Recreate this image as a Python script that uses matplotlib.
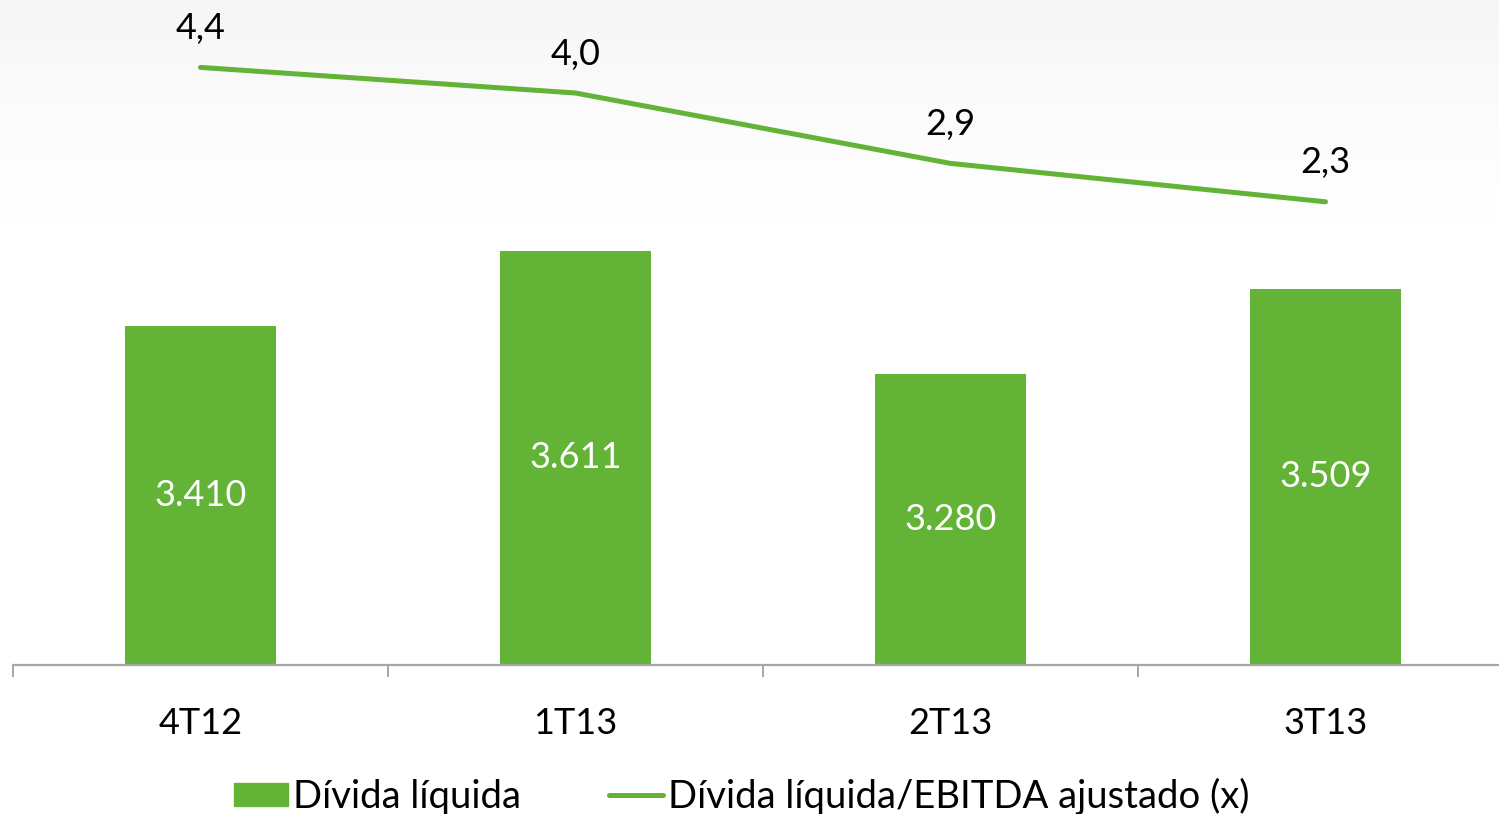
import numpy as np
import matplotlib
matplotlib.use("Agg")
import matplotlib.pyplot as plt

plt.rcParams['font.family'] = ['Lato', 'DejaVu Sans']

# dados
trimestres = ["4T12", "1T13", "2T13", "3T13"]
divida_liquida = [3410, 3611, 3280, 3509]
divida_ebitda = [4.4, 4.0, 2.9, 2.3]
rotulos_barras = ["3.410", "3.611", "3.280", "3.509"]
rotulos_linha = ["4,4", "4,0", "2,9", "2,3"]

verde = '#62b336'
W, H = 1499, 814

fig = plt.figure(figsize=(W / 100, H / 100), dpi=100)

# fundo com leve degrade cinza no topo
bg = fig.add_axes([0, 0, 1, 1], zorder=-10)
grad = np.linspace(0, 1, 256).reshape(-1, 1)
alpha = np.clip(1 - grad / 0.28, 0, 1) ** 1.3
img = np.ones((256, 1, 4))
img[..., :3] = 0.965
img[..., 3] = alpha * 1.0
bg.imshow(img, aspect='auto', extent=[0, 1, 0, 1], origin='upper')
bg.set_xlim(0, 1)
bg.set_ylim(0, 1)
bg.axis('off')

ax = fig.add_axes([13 / W, 1 - 665 / H, (W - 13) / W, 665 / H])
ax.patch.set_alpha(0)
x = np.arange(len(trimestres))

ax.bar(x, divida_liquida, width=0.403, color=verde, zorder=2)
ax.set_ylim(2500, 2500 + 665 / 0.373)

for xi, v, lab in zip(x, divida_liquida, rotulos_barras):
    ax.text(xi, (2500 + v) / 2, lab, ha='center', va='center', color='white', fontsize=26)

for s in ['top', 'right', 'left']:
    ax.spines[s].set_visible(False)
ax.spines['bottom'].set_color('#a6a6a6')
ax.spines['bottom'].set_linewidth(1.6)
ax.set_yticks([])
ax.set_xticks(x)
ax.set_xticklabels(trimestres, fontsize=26)
ax.tick_params(axis='x', which='major', length=0, pad=30)
ax.set_xticks(np.arange(-0.5, 4, 1), minor=True)
ax.tick_params(axis='x', which='minor', length=8.5, width=1.4, color='#a6a6a6')

ax2 = ax.twinx()
ax2.plot(x, divida_ebitda, color=verde, linewidth=3.6, solid_capstyle='round', zorder=3)
ax2.set_ylim((349 - 665) / 64, 349 / 64)
ax2.axis('off')
for xi, v, lab in zip(x, divida_ebitda, rotulos_linha):
    ax2.annotate(lab, (xi, v), xytext=(0, 28), textcoords='offset points',
                 ha='center', va='center', fontsize=26, color='black')

# limites x depois de tudo (eixo compartilhado)
ax.set_xlim(-0.5, -0.5 + (W - 13) / 375)

# legenda
h1 = plt.Rectangle((0, 0), 1, 1, color=verde)
h2 = plt.Line2D([], [], color=verde, linewidth=3.6, solid_capstyle='round')
fig.legend([h1, h2], ["Dívida líquida", "Dívida líquida/EBITDA ajustado (x)"],
           loc='center', bbox_to_anchor=(742 / W, 1 - 796 / H), ncol=2, frameon=False,
           fontsize=27.5, handlelength=1.4, handleheight=0.55, handletextpad=0.15,
           columnspacing=2.3, borderpad=0, borderaxespad=0)

fig.savefig("out.png", dpi=100)
